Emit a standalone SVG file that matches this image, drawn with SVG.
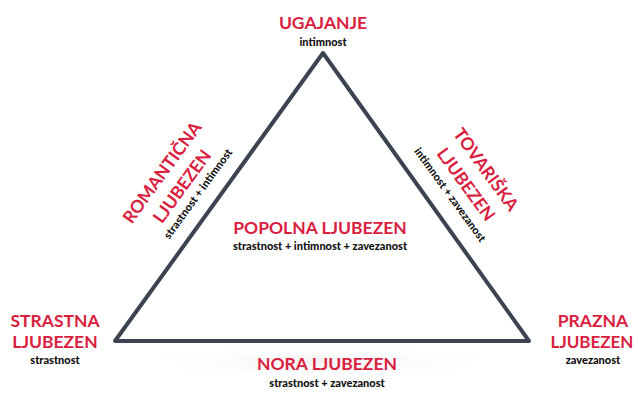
<svg xmlns="http://www.w3.org/2000/svg" width="638" height="394" viewBox="0 0 638 394">
<defs>
<radialGradient id="sh" cx="0.5" cy="0.5" r="0.5">
<stop offset="0" stop-color="#e8e8e8" stop-opacity="0.6"/>
<stop offset="1" stop-color="#ffffff" stop-opacity="0"/>
</radialGradient>
<style>
.t{font-family:Lato,"Open Sans","Liberation Sans",sans-serif;font-weight:bold;fill:#d9213f;text-anchor:middle;font-size:17.5px}
.s{font-family:Lato,"Open Sans","Liberation Sans",sans-serif;font-weight:900;fill:#111;text-anchor:middle;font-size:11px}
</style>
</defs>
<rect width="638" height="394" fill="#fff"/>
<ellipse cx="322" cy="362" rx="200" ry="18" fill="url(#sh)"/>
<g id="connectors">
<polygon points="323,53 115,341 529,341" fill="none" stroke="#3c4452" stroke-width="4" stroke-linejoin="round"/>
</g>
<g id="ugajanje">
<text class="t" x="323" y="29">UGAJANJE</text>
<text class="s" x="323" y="46">intimnost</text>
</g>
<g id="popolna">
<text class="t" x="320" y="234">POPOLNA LJUBEZEN</text>
<text class="s" x="320" y="250">strastnost + intimnost + zavezanost</text>
</g>
<g id="nora">
<text class="t" x="327" y="370">NORA LJUBEZEN</text>
<text class="s" x="327" y="387">strastnost + zavezanost</text>
</g>
<g id="strastna">
<text class="t" x="55" y="327">STRASTNA</text>
<text class="t" x="55" y="348">LJUBEZEN</text>
<text class="s" x="55" y="364">strastnost</text>
</g>
<g id="prazna">
<text class="t" x="593" y="327">PRAZNA</text>
<text class="t" x="592" y="348" style="font-size:17px">LJUBEZEN</text>
<text class="s" x="593" y="364">zavezanost</text>
</g>
<g id="romanticna">
<text class="t" transform="translate(167,176) rotate(-54)">ROMANTIČNA</text>
<text class="t" transform="translate(187,190) rotate(-54)">LJUBEZEN</text>
<text class="s" transform="translate(201,196) rotate(-54)">strastnost + intimnost</text>
</g>
<g id="tovariska">
<text class="t" transform="translate(481,173) rotate(54)">TOVARIŠKA</text>
<text class="t" transform="translate(461,188) rotate(54)">LJUBEZEN</text>
<text class="s" transform="translate(447,197) rotate(54)">intimnost + zavezanost</text>
</g>
</svg>
